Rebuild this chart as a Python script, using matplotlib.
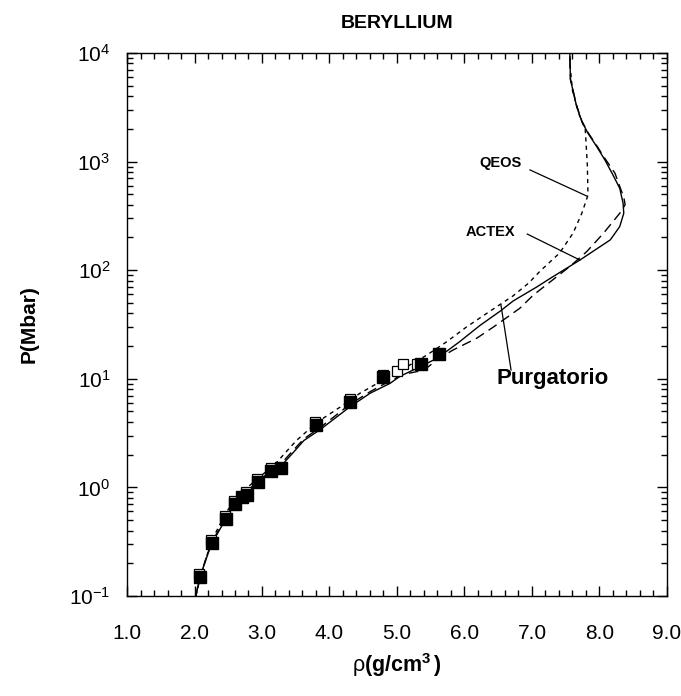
import numpy as np
import matplotlib
matplotlib.use("Agg")
from matplotlib import pyplot as plt
from matplotlib.ticker import MultipleLocator, FormatStrFormatter, LogLocator

plt.rcParams['font.family'] = ['Liberation Sans', 'DejaVu Sans']
plt.rcParams['mathtext.fontset'] = 'custom'
plt.rcParams['mathtext.rm'] = 'Liberation Sans'
plt.rcParams['mathtext.bf'] = 'Liberation Sans:bold'
plt.rcParams['mathtext.it'] = 'Liberation Sans:italic'
plt.rcParams['axes.unicode_minus'] = False

# Purgatorio (solid)
purg_rho = [2.02, 2.08, 2.25, 2.47, 2.63, 2.80, 2.95, 3.15, 3.30, 3.45, 3.62, 3.86, 4.30,
            4.60, 4.90, 5.04, 5.34, 5.60, 5.93, 6.23, 6.53, 6.72, 7.07, 7.27, 7.71, 8.16,
            8.30, 8.36, 8.35, 8.30, 8.20, 8.08, 7.96, 7.83, 7.74, 7.66, 7.57, 7.56]
purg_P = [0.10, 0.15, 0.30, 0.52, 0.76, 0.92, 1.12, 1.42, 1.62, 2.05, 2.7, 3.4, 5.5,
          7.35, 9.1, 10.5, 12.9, 15.5, 22, 31, 42, 52, 70, 84, 124, 190,
          252, 334, 413, 568, 753, 1035, 1372, 1820, 2330, 3240, 5700, 10000]

# ACTEX (long dashes)
actex_rho = [2.02, 2.08, 2.25, 2.47, 2.63, 2.80, 2.95, 3.15, 3.30, 3.45, 3.62, 3.86, 4.30,
             4.60, 4.90, 5.10, 5.40, 5.59, 5.83, 6.18, 6.43, 6.82, 7.02, 7.56, 7.81, 8.06,
             8.30, 8.38, 8.36, 8.30, 8.23, 8.08, 7.96, 7.83, 7.74, 7.66, 7.57, 7.56]
actex_P = [0.10, 0.15, 0.31, 0.53, 0.78, 0.95, 1.15, 1.45, 1.70, 2.15, 2.8, 3.55, 5.8,
           7.6, 9.6, 11.0, 12.0, 14.9, 18.4, 23.6, 30, 44.6, 59, 108, 148, 219,
           334, 400, 470, 590, 780, 1070, 1400, 1850, 2350, 3300, 5700, 10000]

# QEOS (short dashes)
qeos_rho = [2.02, 2.10, 2.25, 2.45, 2.62, 2.80, 3.00, 3.20, 3.35, 3.51, 3.81, 4.16, 4.45,
            4.90, 5.20, 5.44, 5.74, 6.03, 6.38, 6.72, 6.95, 7.12, 7.41, 7.61, 7.74, 7.83,
            7.82, 7.79, 7.70, 7.60, 7.57, 7.56]
qeos_P = [0.10, 0.16, 0.32, 0.56, 0.82, 1.02, 1.30, 1.65, 2.1, 2.7, 3.95, 5.5, 7.35,
          10.6, 13.5, 16.5, 22, 30, 42, 58, 76, 98, 144, 220, 336, 492,
          930, 1955, 2700, 4500, 7000, 10000]

# measured points, filled squares
exp_rho = [2.08, 2.255, 2.46, 2.60, 2.70, 2.78, 2.94, 3.14, 3.28, 3.80, 4.31, 4.80, 5.35, 5.62]
exp_P = [0.150, 0.305, 0.51, 0.71, 0.82, 0.85, 1.13, 1.43, 1.50, 3.76, 6.1, 10.3, 13.6, 16.9]

# measured points, open squares
open_rho = [2.07, 2.245, 2.45, 2.59, 2.77, 2.93, 3.13, 3.79, 4.30, 4.79, 5.00, 5.09, 5.30]
open_P = [0.160, 0.325, 0.545, 0.755, 0.90, 1.20, 1.52, 4.0, 6.5, 10.9, 11.9, 13.8, 13.7]
open_err = [0.012, 0.025, 0.04, 0.06, 0.07, 0.09, 0.12, 0.3, 0.5, 0.8, 0.9, 1.0, 1.0]

fig = plt.figure(figsize=(6.81, 6.96), dpi=100)
ax = fig.add_axes([0.1865, 0.1437, 0.7929, 0.7802])

ax.plot(purg_rho, purg_P, color='black', lw=1.0, zorder=3)
ax.plot(actex_rho, actex_P, color='black', lw=1.0, dashes=(7, 4), zorder=3)
ax.plot(qeos_rho, qeos_P, color='black', lw=1.0, dashes=(3, 3), zorder=3)

ax.errorbar(open_rho, open_P, yerr=[[0] * len(open_P), open_err], fmt='s', ms=7.5,
            mfc='white', mec='black', mew=0.9, ecolor='black', elinewidth=0.8,
            capsize=2.5, zorder=4)
ax.plot(exp_rho, exp_P, 's', ms=9, color='black', zorder=5)

ax.set_yscale('log')
ax.set_xlim(1.0, 9.0)
ax.set_ylim(0.1, 1e4)

ax.xaxis.set_major_locator(MultipleLocator(1.0))
ax.xaxis.set_minor_locator(MultipleLocator(0.2))
ax.xaxis.set_major_formatter(FormatStrFormatter('%.1f'))
ax.yaxis.set_major_locator(LogLocator(base=10, numticks=10))
ax.yaxis.set_minor_locator(LogLocator(base=10, subs=np.arange(2, 10), numticks=10))

ax.tick_params(which='both', direction='in', top=True, right=True, width=1.0)
ax.tick_params(which='major', length=7)
ax.tick_params(which='minor', length=4)
ax.tick_params(axis='x', which='major', pad=20, labelsize=15)
ax.tick_params(axis='y', which='major', pad=12, labelsize=15)
for s in ax.spines.values():
    s.set_linewidth(1.0)

# model labels with leader lines
ax.text(6.53, 970, 'QEOS', fontsize=10.5, fontweight='bold', ha='center', va='center')
ax.plot([6.97, 7.81], [838, 482], color='black', lw=0.9)
ax.text(6.39, 225, 'ACTEX', fontsize=10.5, fontweight='bold', ha='center', va='center')
ax.plot([6.93, 7.71], [215, 124], color='black', lw=0.9)
ax.text(6.48, 10, 'Purgatorio', fontsize=16, fontweight='bold', ha='left', va='center')
ax.plot([6.54, 6.69], [48, 12.05], color='black', lw=0.9)

ax.set_title('BERYLLIUM', fontsize=14, fontweight='bold', pad=18)
ax.set_ylabel('P(Mbar)', fontsize=15, fontweight='bold', labelpad=22)
ax.set_xlabel(r'$\mathrm{\rho}\mathbf{(g/cm^{3}\,)}$', fontsize=15.5, labelpad=6)

fig.savefig('out.png', dpi=100)
plt.close(fig)
